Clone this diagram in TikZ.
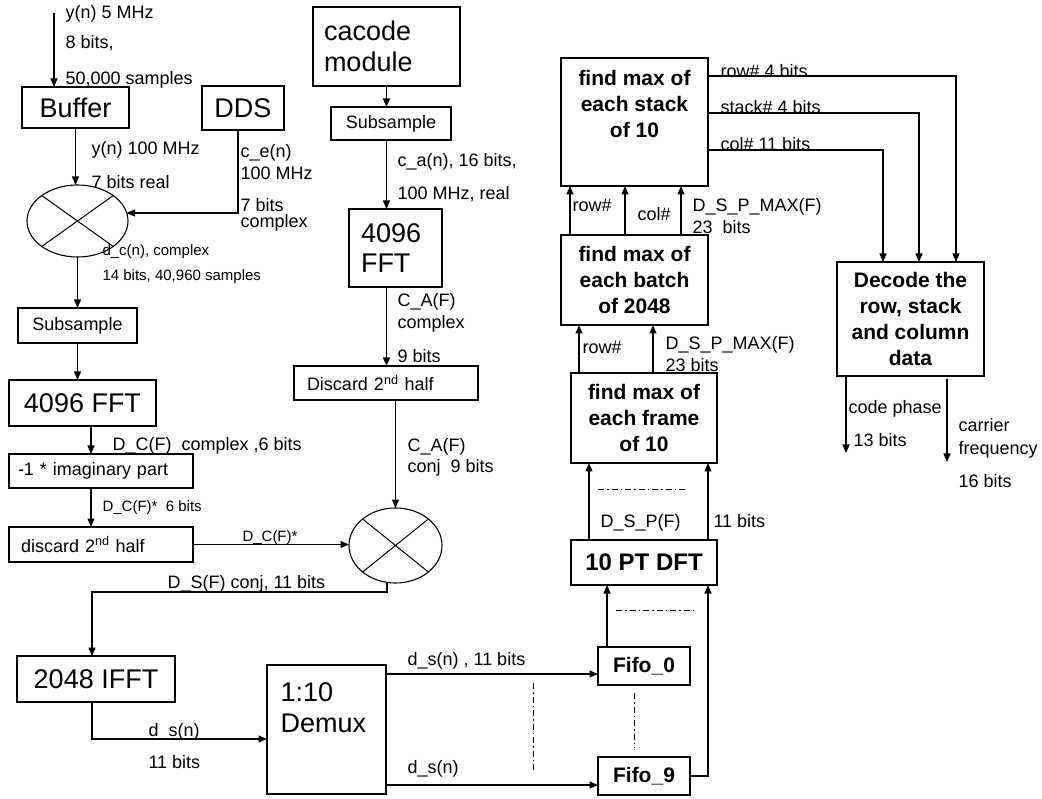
\documentclass[tikz,border=0pt]{standalone}
\usepackage{fontspec}
\setmainfont{Liberation Sans}
\usetikzlibrary{arrows.meta,calc,shapes.geometric}
\newcommand\szL{\fontsize{18}{21}\selectfont}
\newcommand\szS{\fontsize{15}{18}\selectfont}
\newcommand\szB{\fontsize{27}{31}\selectfont}
\newcommand\szBF{\fontsize{27}{30}\selectfont}
\newcommand\szH{\fontsize{21}{26}\selectfont\bfseries}
\newcommand\szD{\fontsize{24}{28}\selectfont\bfseries}
\begin{document}
\begin{tikzpicture}[x=1pt,y=-1pt, line width=1.1pt,
  box/.style={draw, inner sep=0pt, outer sep=0pt},
  arr/.style={-{Triangle[length=8.5pt,width=7pt]}},
  lbl/.style={inner sep=0pt, anchor=west, font=\szL, text height=15.3pt, text depth=2.4pt},
  slbl/.style={inner sep=0pt, anchor=west, font=\szS, text height=12.8pt, text depth=2.05pt},
  mixer/.style={ellipse, draw, inner sep=0pt, outer sep=0pt,
    path picture={\draw[line width=1pt] (path picture bounding box.north west) -- (path picture bounding box.south east)
      (path picture bounding box.south west) -- (path picture bounding box.north east);}},
  dashdot/.style={line width=1pt, dash pattern=on 6pt off 3pt on 1.5pt off 3pt}]
\useasboundingbox (0,0) rectangle (1042,799);

% ---------- left column ----------
\node[box, minimum width=107pt, minimum height=41pt, font=\szB] (buffer) at (75.5,107.5) {Buffer};
\node[box, minimum width=82pt, minimum height=44pt, font=\szB] (dds) at (243,108) {DDS};
\node[mixer, minimum width=101pt, minimum height=72pt] (mix1) at (77.5,221) {};
\node[box, minimum width=119pt, minimum height=35pt, font=\szL] (sub1) at (77.5,325.5) {Subsample};
\node[box, minimum width=147pt, minimum height=46pt, font=\szB] (fft1) at (82.5,403) {4096 FFT};
\node[box, minimum width=184pt, minimum height=34pt, font=\szL, text width=166pt, align=left] (imag) at (101,471) {-1 * imaginary part};
\node[box, minimum width=184pt, minimum height=35pt, font=\szL, text width=160pt, align=left] (disc1) at (101,544.5) {discard 2\textsuperscript{nd} half};

% ---------- middle column ----------
\node[box, minimum width=147pt, minimum height=79pt, font=\szB, text width=125pt, align=left] (cacode) at (386.5,46.5) {cacode\\module};
\node[box, minimum width=120pt, minimum height=33pt, font=\szL] (sub2) at (391,123.5) {Subsample};
\node[box, minimum width=93pt, minimum height=78pt, font=\szBF, text width=69pt, align=left] (fft2) at (395.5,248) {4096\\FFT};
\node[box, minimum width=184pt, minimum height=34pt, font=\szL, text width=158pt, align=left] (disc2) at (386,383) {Discard 2\textsuperscript{nd} half};
\node[mixer, minimum width=93pt, minimum height=75pt] (mix2) at (395.5,545.5) {};
\node[box, minimum width=158pt, minimum height=46pt, font=\szB] (ifft) at (96,679) {2048 IFFT};
\node[box, minimum width=119pt, minimum height=129pt] (demux) at (326.5,729.5) {};
\node[inner sep=0pt, anchor=west, font=\szB, align=left] (demuxtxt) at (280,707.5) {1:10\\Demux};

% ---------- right column ----------
\node[box, minimum width=92pt, minimum height=38pt, font=\szH] (fifo0) at (644,666) {Fifo\_0};
\node[box, minimum width=92pt, minimum height=38pt, font=\szH] (fifo9) at (644,776) {Fifo\_9};
\node[box, minimum width=146pt, minimum height=45pt, font=\szD] (dft) at (644,562.5) {10 PT DFT};
\node[box, minimum width=146pt, minimum height=90pt, font=\szH, align=center] (frame) at (644,418) {find max of\\each frame\\of 10};
\node[box, minimum width=147pt, minimum height=90pt, font=\szH, align=center] (batch) at (634.5,280) {find max of\\each batch\\of 2048};
\node[box, minimum width=147pt, minimum height=128pt] (stack) at (634.5,122) {};
\node[inner sep=0pt, font=\szH, align=center] (stacktxt) at (634.5,104) {find max of\\each stack\\of 10};
\node[box, minimum width=147pt, minimum height=114pt, font=\szH, align=center] (decode) at (910.5,319) {Decode the\\row, stack\\and column\\data};

% ---------- connectors ----------
\coordinate (in) at (54,13);
\draw[arr] (in) -- (in |- buffer.north);
\draw[arr] (buffer.south) -- (buffer.south |- mix1.north);
\coordinate (ddsout) at ($(dds.south)+(-5,0)$);
\coordinate (mix1in) at ($(mix1.east)+(-1.5,-8)$);
\draw[arr] (ddsout) |- (mix1in);
\draw[arr] (mix1.south) -- (sub1.north);
\draw[arr] (sub1.south) -- (sub1.south |- fft1.north);
\coordinate (f1o) at ($(fft1.south)+(8.5,0)$);
\draw[arr] (f1o) -- (f1o |- imag.north);
\draw[arr] (f1o |- imag.south) -- (f1o |- disc1.north);
\draw[arr] (disc1.east) -- (disc1.east -| mix2.west);

\draw[arr] (cacode.south) -- (cacode.south |- sub2.north);
\draw[arr] (cacode.south |- sub2.south) -- (cacode.south |- fft2.north);
\draw[arr] (cacode.south |- fft2.south) -- (cacode.south |- disc2.north);
\draw[arr] (mix2.north |- disc2.south) -- (mix2.north);
\coordinate (m2o) at ($(mix2.south)+(-8.5,-1)$);
\coordinate (ifin) at ($(ifft.north)+(-4,0)$);
\draw[arr] (m2o) -- ++(0,10) -| (ifin);
\coordinate (ifo) at ($(ifft.south)+(-4,0)$);
\coordinate (dmin) at ($(demux.west)+(0,9.5)$);
\draw[arr] (ifo) |- (dmin);
\coordinate (d0) at ($(demux.north east)+(0,9)$);
\draw[arr] (d0) -- (d0 -| fifo0.west);
\coordinate (d9) at ($(demux.south east)+(0,-9)$);
\draw[arr] (d9) -- (d9 -| fifo9.west);

\coordinate (f0o) at ($(fifo0.north)+(-37,0)$);
\draw[arr] (f0o) -- (f0o |- dft.south);
\coordinate (dftin9) at ($(dft.south)+(64,0)$);
\draw[arr] (fifo9.east) -| (dftin9);
\coordinate (a1) at ($(dft.north)+(-55,0)$);
\draw[arr] (a1) -- (a1 |- frame.south);
\coordinate (a2) at ($(dft.north)+(64,0)$);
\draw[arr] (a2) -- (a2 |- frame.south);
\coordinate (b1) at ($(frame.north)+(-65,0)$);
\draw[arr] (b1) -- (b1 |- batch.south);
\coordinate (b2) at ($(frame.north)+(9,0)$);
\draw[arr] (b2) -- (b2 |- batch.south);
\coordinate (c1) at ($(batch.north)+(-64.5,0)$);
\draw[arr] (c1) -- (c1 |- stack.south);
\coordinate (c2) at ($(batch.north)+(-9.5,0)$);
\draw[arr] (c2) -- (c2 |- stack.south);
\coordinate (c3) at ($(batch.north)+(46.5,0)$);
\draw[arr] (c3) -- (c3 |- stack.south);
\coordinate (s1) at ($(stack.north east)+(0,18)$);
\coordinate (t1) at ($(decode.north)+(45.5,0)$);
\draw[arr] (s1) -| (t1);
\coordinate (s2) at ($(stack.north east)+(0,55)$);
\coordinate (t2) at ($(decode.north)+(8.5,0)$);
\draw[arr] (s2) -| (t2);
\coordinate (s3) at ($(stack.north east)+(0,92)$);
\coordinate (t3) at ($(decode.north)+(-27.5,0)$);
\draw[arr] (s3) -| (t3);
\coordinate (o1) at ($(decode.south)+(-64.5,0)$);
\coordinate (o1e) at ($(o1)+(0,77)$);
\draw[arr] (o1) -- (o1e);
\coordinate (o2) at ($(decode.south)+(36.5,3)$);
\coordinate (o2e) at ($(o2)+(0,83)$);
\draw[arr] (o2) -- (o2e);

% ---------- dash-dot marks ----------
\draw[dashdot] (598,490) -- (688,490);
\draw[dashdot] (616,610) -- (696,610);
\draw[dashdot] (634,693) -- (634,748);
\draw[dashdot] (533,683) -- (533,772);

% ---------- labels ----------
\node[lbl] (l1) at (65,12) {y(n) 5 MHz};
\node[lbl] (l2) at (65,42) {8 bits,};
\node[lbl] (l3) at (65,78) {50,000 samples};
\node[lbl] (l4) at (91,148) {y(n) 100 MHz};
\node[lbl] (l5) at (91,182) {7 bits real};
\node[lbl] (l6) at (240,151) {c\_e(n)};
\node[lbl] (l7) at (240,173) {100 MHz};
\node[lbl] (l8) at (240,205) {7 bits};
\node[lbl] (l9) at (240,221) {complex};
\node[slbl] (l10) at (102,250) {d\_c(n), complex};
\node[slbl] (l11) at (102,275) {14 bits, 40,960 samples};
\node[lbl] (l12) at (112,444) {D\_C(F)\ \ complex ,6 bits};
\node[slbl] (l13) at (102,506) {D\_C(F)*\ \ 6 bits};
\node[slbl, anchor=center] (l14) at (270,536) {D\_C(F)*};
\node[lbl] (l15) at (167,582) {D\_S(F) conj, 11 bits};
\node[lbl] (l16) at (148,730) {d\_s(n)};
\node[lbl] (l17) at (148,762) {11 bits};
\node[lbl] (l18) at (407,659) {d\_s(n) , 11 bits};
\node[lbl] (l19) at (407,767) {d\_s(n)};
\node[lbl] (l20) at (397,160) {c\_a(n), 16 bits,};
\node[lbl] (l21) at (397,193) {100 MHz, real};
\node[lbl] (l22) at (397,300) {C\_A(F)};
\node[lbl] (l23) at (397,322) {complex};
\node[lbl] (l24) at (397,356) {9 bits};
\node[lbl] (l25) at (407,445) {C\_A(F)};
\node[lbl] (l26) at (407,466) {conj\ \ 9 bits};
\node[lbl] (l27) at (720,71) {row\# 4 bits};
\node[lbl] (l28) at (720,107) {stack\# 4 bits};
\node[lbl] (l29) at (720,144) {col\# 11 bits};
\node[lbl] (l30) at (572,205) {row\#};
\node[lbl] (l31) at (637,214) {col\#};
\node[lbl] (l32) at (692,205) {D\_S\_P\_MAX(F)};
\node[lbl] (l33) at (692,227) {23\ \ bits};
\node[lbl] (l34) at (582,347) {row\#};
\node[lbl] (l35) at (665,343) {D\_S\_P\_MAX(F)};
\node[lbl] (l36) at (665,365) {23 bits};
\node[lbl] (l37) at (600,521) {D\_S\_P(F)};
\node[lbl] (l38) at (713,521) {11 bits};
\node[lbl] (l39) at (848,407) {code phase};
\node[lbl] (l40) at (853,440) {13 bits};
\node[lbl] (l41) at (958,425) {carrier};
\node[lbl] (l42) at (958,448) {frequency};
\node[lbl] (l43) at (958,481) {16 bits};
\end{tikzpicture}
\end{document}
